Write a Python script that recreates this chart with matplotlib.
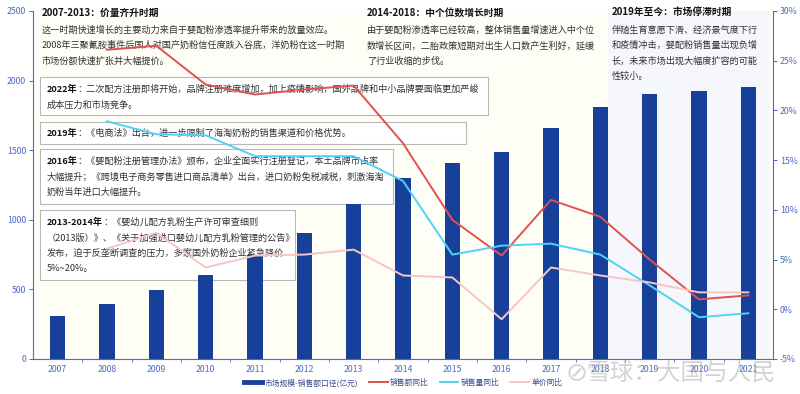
import matplotlib
matplotlib.use("Agg")
import matplotlib.pyplot as plt
from matplotlib.patches import Rectangle
from matplotlib.lines import Line2D
from matplotlib.ticker import FuncFormatter

plt.rcParams['font.family'] = ['Noto Sans CJK SC', 'DejaVu Sans']

years = ['2007', '2008', '2009', '2010', '2011', '2012', '2013', '2014',
         '2015', '2016', '2017', '2018', '2019', '2020', '2021']
market_size = [308, 392, 495, 607, 746, 906, 1112, 1298, 1411, 1489, 1657, 1810, 1903, 1927, 1956]
sales_yoy = [None, 26.1, 26.5, 22.6, 21.6, 22.1, 22.5, 16.7, 9.0, 5.4, 11.0, 9.3, 5.0, 1.0, 1.4]
volume_yoy = [None, 18.9, 17.6, 17.5, 15.4, 15.4, 15.4, 12.9, 5.5, 6.4, 6.6, 5.5, 2.4, -0.8, -0.4]
price_yoy = [None, 6.1, 7.7, 4.2, 5.4, 5.5, 6.0, 3.4, 3.2, -1.0, 4.2, 3.4, 2.7, 1.7, 1.7]

legend_labels = ['市场规模-销售额口径(亿元)', '销售额同比', '销售量同比', '单价同比']

W, H = 800, 394
fig = plt.figure(figsize=(8, 3.94), dpi=100, facecolor='white')
ax = fig.add_axes([33 / W, 1 - 359 / H, (773 - 33) / W, (359 - 11) / H])
ax.set_facecolor('#fefef6')
ax2 = ax.twinx()

x = list(range(len(years)))
BAR = '#17409a'
RED = '#e2514f'
CYAN = '#4fd2f7'
PINK = '#f6c6c4'
AXC = '#4a6bc6'

# lavender background for 2019 onward
ax.axvspan(11 + 0.155, 14.44, color='#f6f6fd', zorder=0.2, lw=0)

ax.bar(x, market_size, width=0.31, color=BAR, zorder=2)
ax.set_xlim(-0.5, len(years) - 0.5)
ax.set_ylim(0, 2500)
ax.set_yticks([0, 500, 1000, 1500, 2000, 2500])
ax.set_xticks(x)
ax.set_xticklabels(years)
ax.set_xticks([i + 0.5 for i in x[:-1]], minor=True)

def pct(v, p):
    return f"{int(v)}%"

xs = x[1:]
ax2.plot(xs, sales_yoy[1:], color=RED, lw=1.4, zorder=3)
ax2.plot(xs, volume_yoy[1:], color=CYAN, lw=1.4, zorder=3)
ax2.plot(xs, price_yoy[1:], color=PINK, lw=1.4, zorder=3)
ax2.set_ylim(-5, 30)
ax2.set_yticks([-5, 0, 5, 10, 15, 20, 25, 30])
ax2.yaxis.set_major_formatter(FuncFormatter(pct))

for a in (ax, ax2):
    a.spines['top'].set_visible(False)
    for s in ('left', 'right', 'bottom'):
        a.spines[s].set_color(AXC)
        a.spines[s].set_linewidth(0.8)
    a.tick_params(axis='both', colors=AXC, labelsize=6.3, length=3, width=0.7, pad=2)
ax.tick_params(axis='x', which='major', length=0, pad=4)
ax.tick_params(axis='x', which='minor', length=2, color=AXC)
ax.spines['right'].set_visible(False)
ax2.spines['left'].set_visible(False)
ax2.spines['bottom'].set_visible(False)

TXT = '#333333'
FS = 6.6

def fx(px):
    return px / W

def fy(py):
    return 1 - py / H

def box(x0, y0, x1, y1):
    r = Rectangle((fx(x0), fy(y1)), fx(x1) - fx(x0), (y1 - y0) / H,
                  transform=fig.transFigure, facecolor='white', edgecolor='#b8b8b8',
                  lw=0.8, zorder=1.0, clip_on=False)
    ax.add_patch(r)

def txt(px, py, s, bold=False, size=FS):
    ax.text(fx(px), fy(py), s, transform=fig.transFigure, fontsize=size,
            fontweight='bold' if bold else 'normal', color=TXT if not bold else '#111111',
            va='center', ha='left', zorder=1.5, clip_on=False)

def rich(px, py, head, rest):
    t = ax.text(fx(px), fy(py), head, transform=fig.transFigure, fontsize=FS,
                fontweight='bold', color='#111111', va='center', ha='left', zorder=1.5)
    fig.canvas.draw()
    bb = t.get_window_extent()
    ax.text(bb.x1 / W, fy(py), rest, transform=fig.transFigure, fontsize=FS,
            color=TXT, va='center', ha='left', zorder=1.5)

# header texts
txt(42, 13, '2007-2013：价量齐升时期', bold=True, size=7.0)
txt(42, 30, '这一时期快速增长的主要动力来自于婴配粉渗透率提升带来的放量效应。')
txt(42, 45.5, '2008年三聚氰胺事件后国人对国产奶粉信任度跌入谷底，洋奶粉在这一时期')
txt(42, 61, '市场份额快速扩张并大幅提价。')

txt(367, 13, '2014-2018：中个位数增长时期', bold=True, size=7.0)
txt(367, 30, '由于婴配粉渗透率已经较高，整体销售量增速进入中个位')
txt(367, 45.5, '数增长区间，二胎政策短期对出生人口数产生利好，延缓')
txt(367, 61, '了行业收缩的步伐。')

txt(612, 13, '2019年至今：市场停滞时期', bold=True, size=7.0)
txt(612, 30, '伴随生育意愿下滑、经济景气度下行')
txt(612, 45.5, '和疫情冲击，婴配粉销售量出现负增')
txt(612, 61, '长，未来市场出现大幅度扩容的可能')
txt(612, 76.5, '性较小。')

# boxes
box(40, 77, 488, 115)
rich(47, 89.5, '2022年', '：二次配方注册即将开始，品牌注册难度增加，加上疫情影响，国外品牌和中小品牌要面临更加严峻')
txt(47, 105.5, '成本压力和市场竞争。')

box(40, 122, 466, 144)
rich(47, 133.5, '2019年', '：《电商法》出台，进一步限制了海淘奶粉的销售渠道和价格优势。')

box(40, 149, 393, 204)
rich(47, 161.5, '2016年', '：《婴配粉注册管理办法》颁布，企业全面实行注册登记，本土品牌市占率')
txt(47, 177, '大幅提升；《跨境电子商务零售进口商品清单》出台，进口奶粉免税减税，刺激海淘')
txt(47, 192.5, '奶粉当年进口大幅提升。')

box(40, 210, 295, 280)
rich(47, 222.5, '2013-2014年', '：《婴幼儿配方乳粉生产许可审查细则')
txt(47, 238, '（2013版）》、《关于加强进口婴幼儿配方乳粉管理的公告》')
txt(47, 253.5, '发布，迫于反垄断调查的压力，多家国外奶粉企业紧急降价')
txt(47, 269, '5%~20%。')

# legend
handles = [Line2D([0], [0], color=BAR, lw=3.5),
           Line2D([0], [0], color=RED, lw=1.4),
           Line2D([0], [0], color=CYAN, lw=1.4),
           Line2D([0], [0], color=PINK, lw=1.4)]
leg = fig.legend(handles, legend_labels, loc='center', bbox_to_anchor=(fx(403), fy(383)),
                 ncol=4, frameon=False, fontsize=5.6, handlelength=2.4, handletextpad=0.3,
                 columnspacing=1.4, labelcolor='#3a4b8c', borderpad=0.2)

# watermark
fig.text(fx(566), fy(374), '⊘', fontsize=19, color='#b0b0b0', alpha=0.55,
         va='center', ha='left', family=['DejaVu Sans'])
fig.text(fx(586), fy(374), '雪球：大国与人民', fontsize=17, color='#a8a8a8', alpha=0.5,
         va='center', ha='left')

fig.savefig('out.png', dpi=100, facecolor='white')
